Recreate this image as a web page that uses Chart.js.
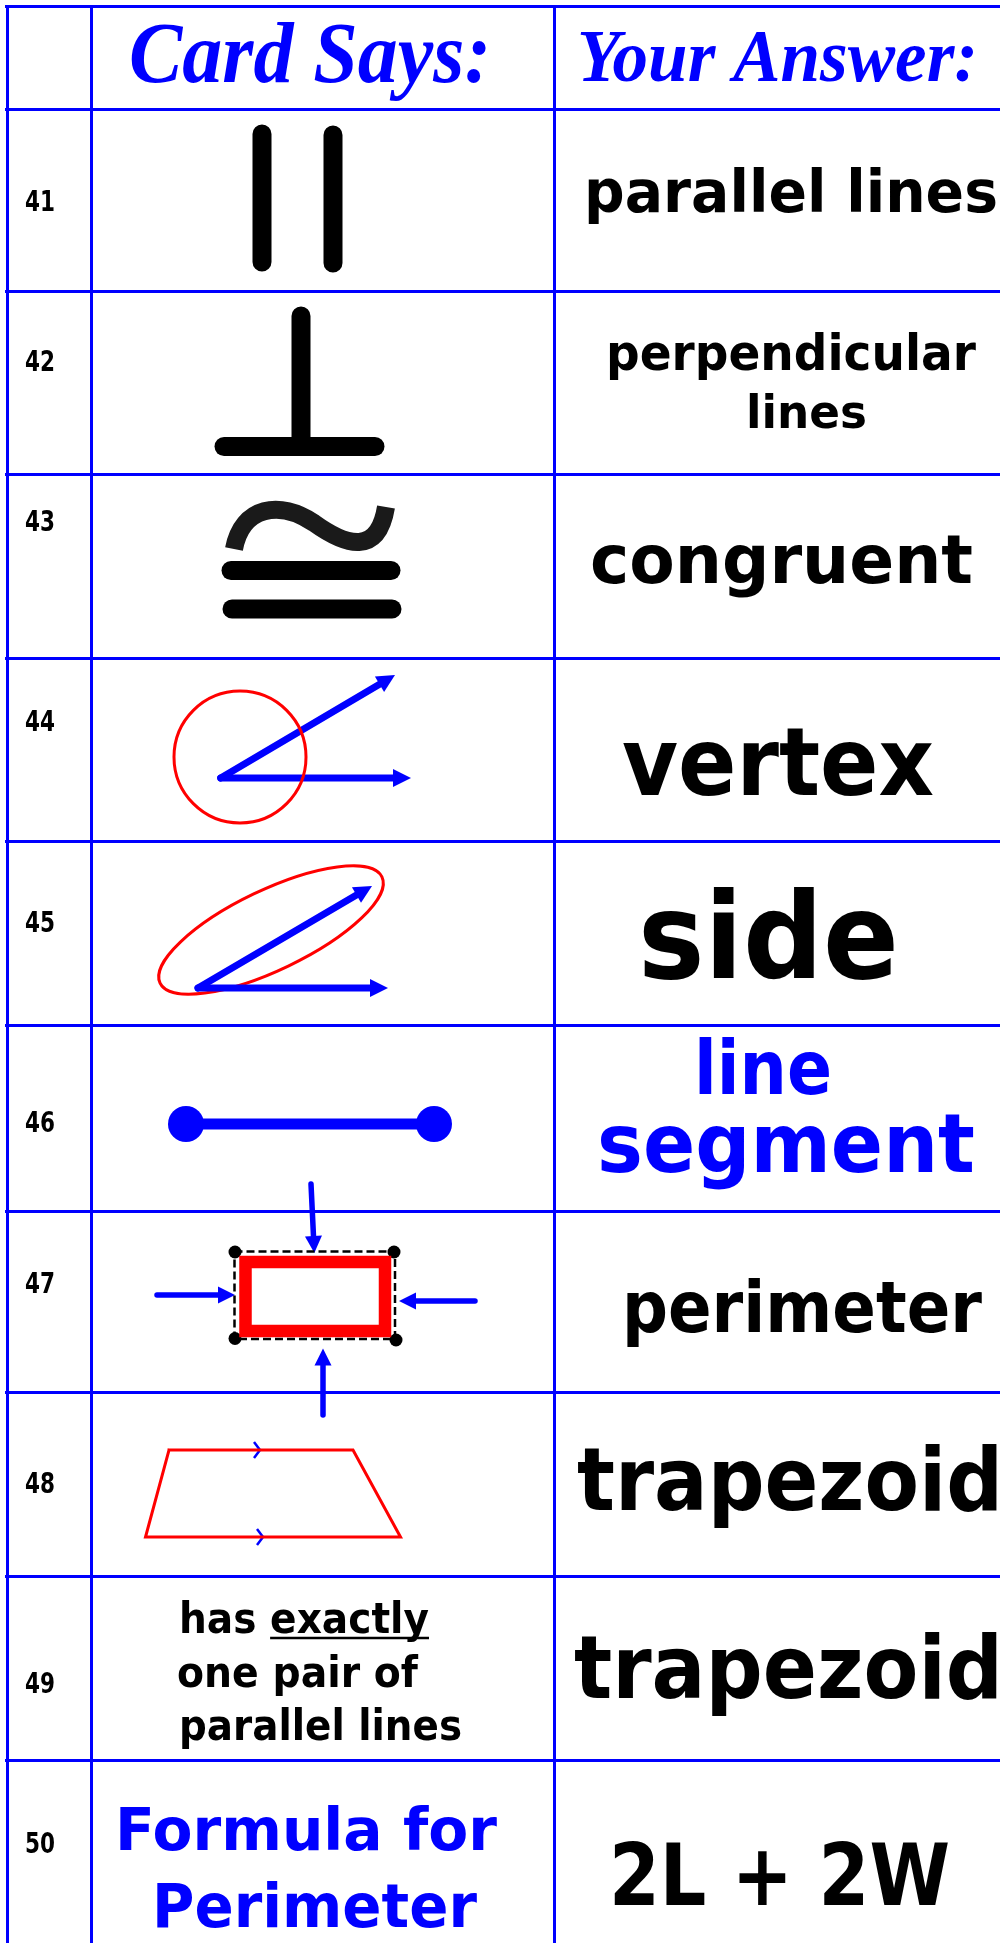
<!DOCTYPE html>
<html>
<head>
<meta charset="utf-8">
<script src="https://cdn.jsdelivr.net/npm/chart.js@4.4.0/dist/chart.umd.min.js"></script>
<style>
  html, body { margin: 0; padding: 0; background: #fff; }
</style>
</head>
<body>
<canvas id="myChart" width="1000" height="1943"></canvas>
<script>
// table grid (column / row borders, in page units)
const colEdges = [7.3, 91.7, 554];
const rowEdges = [6.7, 109, 291, 474, 658, 841, 1025.5, 1211, 1392, 1576, 1760];

const headers = ["Card Says:", "Your Answer:"];
const rowLabels = ["41", "42", "43", "44", "45", "46", "47", "48", "49", "50"];
const cardLines = [[], [], [], [], [], [], [], [], ["has exactly", "one pair of", "parallel lines"], ["Formula for", "Perimeter"]];
const answerLines = [
  ["parallel lines"], ["perpendicular", "lines"], ["congruent"], ["vertex"], ["side"],
  ["line", "segment"], ["perimeter"], ["trapezoid"], ["trapezoid"], ["2L + 2W"]
];
const blueAnswers = [5];
const blueCards = [9];

// text placement: [left, baseline, width, fontSize]
const headerBoxes = [[129, 82, 362, 86], [577, 81, 401, 75]];
const labelBaselines = [211, 370.7, 531, 730.7, 931.7, 1132, 1292.7, 1493.3, 1693.3, 1853.3];
const answerBoxes = [
  [[584, 212, 414, 59]],
  [[606, 370, 370, 49], [746, 428, 121, 47]],
  [[590, 583, 383, 68]],
  [[622, 795, 312, 95]],
  [[638, 978, 261, 120]],
  [[694, 1094, 138, 74], [597, 1172, 378, 82]],
  [[622, 1332, 360, 71]],
  [[577, 1510, 426, 88]],
  [[574, 1698, 429, 87]],
  [[609, 1905, 341, 86]]
];
const cardBoxes = {
  8: [[179, 1633, 250, 43], [177, 1687, 241, 43], [179, 1740, 283, 43]],
  9: [[115, 1850, 382, 59], [152, 1927, 325, 61]]
};

// card symbols
const thickBars = [
  [[262, 134], [262, 262]], [[333, 135], [333, 263]],
  [[301, 316], [301, 446]], [[224, 446.5], [375, 446.5]],
  [[231, 570.5], [391, 570.5]], [[232, 609], [392, 609]]
];
const tilde = [[234, 549], [242, 506], [280, 500], [314, 523], [346, 546], [378, 556], [386, 507]];
const vertexCircle = [240, 757];
const sideEllipse = [271, 930];
const segmentEnds = [[186, 1124], [434, 1124]];
const redRect = [[245.5, 1262], [385, 1262], [385, 1331], [245.5, 1331], [245.5, 1262]];
const dashRect = [[234.5, 1251.5], [395, 1251.5], [395, 1339], [234.5, 1339], [234.5, 1251.5]];
const rectCorners = [[235, 1252], [394, 1252], [235, 1338.5], [396, 1340]];
const trapezoid = [[169, 1450], [353, 1450], [400.5, 1537], [145.5, 1537], [169, 1450]];
const chevrons = [[[254, 1442], [260, 1450], [254, 1458]], [[257, 1529], [263, 1537], [257, 1545]]];
const bigArrows = [
  [[220.7, 778], [395, 675]], [[220.7, 778], [411, 778]],
  [[198, 988], [372, 886]], [[198, 988], [388, 988]]
];
const smallArrows = [
  [[311, 1184], [314.3, 1253]], [[157, 1295], [235, 1295]],
  [[475, 1301], [399, 1301]], [[323, 1415], [323, 1348.5]]
];

const BLUE = "#0000ff";
const RED = "#ff0000";
const SANS = '"DejaVu Sans", "Liberation Sans", sans-serif';
const SERIF = '"Liberation Serif", "Times New Roman", serif';

const pts = (arr) => arr.map((p) => ({ x: p[0], y: p[1] }));

function lineSet(arr, color, width, extra) {
  return Object.assign({
    data: pts(arr),
    showLine: true,
    borderColor: color,
    borderWidth: width,
    pointRadius: 0,
    tension: 0,
    fill: false,
  }, extra || {});
}

const datasets = [];
thickBars.forEach((b) => datasets.push(lineSet(b, "#000", 19, { borderCapStyle: "round" })));
datasets.push(lineSet(segmentEnds, BLUE, 11, { pointRadius: 18, pointBackgroundColor: BLUE, pointBorderWidth: 0 }));
datasets.push(lineSet(redRect, RED, 12.5, { borderCapStyle: "square", borderJoinStyle: "miter" }));
datasets.push({ data: pts(rectCorners), pointRadius: 6.5, pointBackgroundColor: "#000", pointBorderWidth: 0 });
datasets.push(lineSet(dashRect, "#000", 2.5, { borderDash: [8, 4] }));
datasets.push(lineSet(trapezoid, RED, 3, { borderCapStyle: "square" }));
chevrons.forEach((c) => datasets.push(lineSet(c, BLUE, 2.5)));
datasets.push({
  data: pts([vertexCircle]),
  pointRadius: 66,
  pointBorderColor: RED,
  pointBorderWidth: 3,
  pointBackgroundColor: "rgba(0,0,0,0)",
});

function fitText(ctx, text, x, y, width, size, font, color) {
  ctx.save();
  ctx.font = font.replace("SIZE", size + "px");
  ctx.fillStyle = color;
  ctx.textAlign = "left";
  ctx.textBaseline = "alphabetic";
  const sx = width / ctx.measureText(text).width;
  ctx.translate(x, y);
  ctx.scale(sx, 1);
  ctx.fillText(text, 0, 0);
  ctx.restore();
  return sx;
}

function drawArrow(ctx, a, b, w, head, half) {
  const ang = Math.atan2(b[1] - a[1], b[0] - a[0]);
  const c = Math.cos(ang), s = Math.sin(ang);
  const bx = b[0] - c * head, by = b[1] - s * head;
  ctx.lineWidth = w;
  ctx.lineCap = "round";
  ctx.beginPath();
  ctx.moveTo(a[0], a[1]);
  ctx.lineTo(bx + c * 2, by + s * 2);
  ctx.stroke();
  ctx.beginPath();
  ctx.moveTo(b[0], b[1]);
  ctx.lineTo(bx - s * half, by + c * half);
  ctx.lineTo(bx + s * half, by - c * half);
  ctx.closePath();
  ctx.fill();
}

const cardPlugin = {
  id: "cardPlugin",
  beforeDatasetsDraw(chart) {
    const { ctx, scales: { x, y } } = chart;
    const P = (p) => [x.getPixelForValue(p[0]), y.getPixelForValue(p[1])];
    ctx.save();
    // ellipse round the side
    const e = P(sideEllipse);
    ctx.strokeStyle = RED;
    ctx.lineWidth = 3;
    ctx.beginPath();
    ctx.ellipse(e[0], e[1], 123, 40, -25.6 * Math.PI / 180, 0, Math.PI * 2);
    ctx.stroke();
    ctx.strokeStyle = BLUE;
    ctx.fillStyle = BLUE;
    bigArrows.forEach((ar) => drawArrow(ctx, P(ar[0]), P(ar[1]), 7, 18, 9));
    smallArrows.forEach((ar) => drawArrow(ctx, P(ar[0]), P(ar[1]), 5.5, 17, 8.5));
    ctx.restore();
  },
  afterDatasetsDraw(chart) {
    const { ctx, scales: { x, y } } = chart;
    const P = (p) => [x.getPixelForValue(p[0]), y.getPixelForValue(p[1])];
    ctx.save();
    // congruence tilde
    const t = tilde.map(P);
    ctx.strokeStyle = "#1a1a1a";
    ctx.lineWidth = 18;
    ctx.lineCap = "butt";
    ctx.beginPath();
    ctx.moveTo(t[0][0], t[0][1]);
    ctx.bezierCurveTo(t[1][0], t[1][1], t[2][0], t[2][1], t[3][0], t[3][1]);
    ctx.bezierCurveTo(t[4][0], t[4][1], t[5][0], t[5][1], t[6][0], t[6][1]);
    ctx.stroke();
    ctx.restore();

    const headFont = "italic bold SIZE " + SERIF;
    const sansFont = "bold SIZE " + SANS;
    headers.forEach((h, i) => {
      const b = headerBoxes[i];
      fitText(ctx, h, x.getPixelForValue(b[0]), y.getPixelForValue(b[1]), b[2], b[3], headFont, BLUE);
    });
    rowLabels.forEach((lab, i) => {
      fitText(ctx, lab, x.getPixelForValue(25), y.getPixelForValue(labelBaselines[i]), 30, 29, sansFont, "#000");
    });
    answerLines.forEach((lines, i) => {
      const col = blueAnswers.includes(i) ? BLUE : "#000";
      lines.forEach((txt, j) => {
        const b = answerBoxes[i][j];
        fitText(ctx, txt, x.getPixelForValue(b[0]), y.getPixelForValue(b[1]), b[2], b[3], sansFont, col);
      });
    });
    cardLines.forEach((lines, i) => {
      const col = blueCards.includes(i) ? BLUE : "#000";
      lines.forEach((txt, j) => {
        const b = cardBoxes[i][j];
        const left = x.getPixelForValue(b[0]), base = y.getPixelForValue(b[1]);
        const sx = fitText(ctx, txt, left, base, b[2], b[3], sansFont, col);
        if (txt === "has exactly") {
          // "exactly" is underlined
          ctx.save();
          ctx.font = sansFont.replace("SIZE", b[3] + "px");
          const start = left + ctx.measureText("has ").width * sx;
          ctx.strokeStyle = "#000";
          ctx.lineWidth = 2.5;
          ctx.beginPath();
          ctx.moveTo(start, base + 5);
          ctx.lineTo(left + b[2], base + 5);
          ctx.stroke();
          ctx.restore();
        }
      });
    });
  },
};

const gridOpts = { color: BLUE, lineWidth: 3, drawTicks: false };

const ctx = document.getElementById("myChart").getContext("2d");
window.chart = new Chart(ctx, {
  type: "scatter",
  data: { datasets },
  options: {
    responsive: false,
    animation: false,
    events: [],
    layout: { autoPadding: false, padding: { left: 5, top: 5, right: 0, bottom: 0 } },
    scales: {
      x: {
        type: "linear",
        min: 5,
        max: 1000,
        grid: gridOpts,
        border: { display: false },
        ticks: { display: false },
        afterBuildTicks: (s) => { s.ticks = colEdges.map((v) => ({ value: v })); },
      },
      y: {
        type: "linear",
        reverse: true,
        min: 5,
        max: 1943,
        grid: gridOpts,
        border: { display: false },
        ticks: { display: false },
        afterBuildTicks: (s) => { s.ticks = rowEdges.map((v) => ({ value: v })); },
      },
    },
    plugins: { legend: { display: false }, tooltip: { enabled: false } },
  },
  plugins: [cardPlugin],
});
</script>
</body>
</html>
